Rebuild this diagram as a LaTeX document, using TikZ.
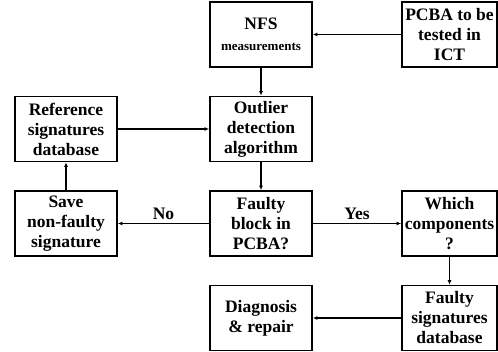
\documentclass[tikz,border=0pt]{standalone}
\usepackage{fontspec}
\setmainfont{Liberation Serif}
\usetikzlibrary{arrows.meta}
\begin{document}
\begin{tikzpicture}[x=1pt,y=-1pt,
	blk/.style={draw,line width=1.8pt,minimum width=102pt,minimum height=65pt,inner sep=1pt,
		align=center,font=\fontsize{17.5}{20}\selectfont\bfseries},
	blkr/.style={blk,minimum width=95pt},
	arr/.style={-{Latex[length=4.5pt,width=4pt]},line width=1.3pt},
	lbl/.style={font=\fontsize{17.5}{20}\selectfont\bfseries,above}]
	\useasboundingbox (0,0) rectangle (498,352);
	% top row
	\node[blk] (nfs) at (261,34.5) {NFS\\[1pt]{\fontsize{13}{15}\selectfont measurements}};
	\node[blkr] (pcba) at (449.5,34.5) {PCBA to be\\tested in\\ICT};
	% second row
	\node[blk] (refdb) at (66,129) {Reference\\signatures\\database};
	\node[blk] (outlier) at (261,129) {Outlier\\detection\\algorithm};
	% third row
	\node[blk] (save) at (66,223.5) {Save\\non-faulty\\signature};
	\node[blk] (faulty) at (261,223.5) {Faulty\\block in\\PCBA?};
	\node[blkr] (which) at (449.5,223.5) {Which\\components\\?};
	% bottom row
	\node[blk] (diag) at (261,318) {Diagnosis\\\& repair};
	\node[blkr] (faultydb) at (449.5,318) {Faulty\\signatures\\database};
	% connectors
	\draw[arr] (pcba) -- (nfs);
	\draw[arr] (nfs) -- (outlier);
	\draw[arr] (refdb) -- (outlier);
	\draw[arr] (outlier) -- (faulty);
	\draw[arr] (faulty) -- node[lbl] {No} (save);
	\draw[arr] (faulty) -- node[lbl] {Yes} (which);
	\draw[arr] (save) -- (refdb);
	\draw[arr] (which) -- (faultydb);
	\draw[arr] (faultydb) -- (diag);
\end{tikzpicture}
\end{document}
